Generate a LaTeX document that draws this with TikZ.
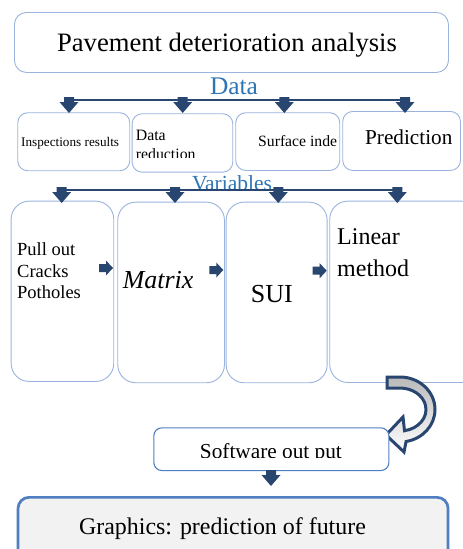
\documentclass[tikz,border=0pt]{standalone}
\usepackage{fontspec}
\setmainfont{Liberation Serif}
\definecolor{edgeblue}{HTML}{9AB4DF}
\definecolor{navy}{HTML}{284670}
\definecolor{headblue}{HTML}{2E75B6}
\definecolor{outblue}{HTML}{4F7FC0}
\definecolor{panelgray}{HTML}{F2F2F2}
\newcommand\setpx[1]{\fontsize{#1}{#1}\selectfont}
\tikzset{
  x=1pt, y=-1pt,
  box/.style={draw=edgeblue, line width=0.9pt, rounded corners=10pt,
    anchor=north west, inner sep=0pt, fill=white},
  tallbox/.style={box, rounded corners=18pt},
  txt/.style={inner sep=0pt, anchor=base west},
  ctxt/.style={inner sep=0pt, anchor=base},
  busline/.style={draw=navy, line width=1.8pt},
  dnarrow/.pic={\fill[navy] (-5,-3) -- (5,-3) -- (5,2) -- (9.5,2) -- (0,13)
    -- (-9.5,2) -- (-5,2) -- cycle;},
  rtarrow/.pic={\fill[navy] (0,-4) -- (7,-4) -- (7,-7.5) -- (14,0) -- (7,7.5)
    -- (7,4) -- (0,4) -- cycle;},
}
\begin{document}
\begin{tikzpicture}
\clip (0,0) rectangle (463,549);
\fill[white] (0,0) rectangle (463,549);

% title
\node[box, rounded corners=12pt, minimum width=434pt, minimum height=60pt] (title) at (14,12) {};
\node[ctxt, font=\setpx{26.6}] (titletxt) at (227,51.7) {Pavement deterioration analysis};

% data bus
\node[ctxt, font=\setpx{25.4}, text=headblue] (datalbl) at (234,94) {Data};
\coordinate (busA) at (68,100);
\coordinate (busB) at (406,100);
\draw[busline] (busA) -- (busB);

% data boxes
\node[box, minimum width=112pt, minimum height=58pt] (ins) at (17.3,112.3) {};
\node[box, minimum width=100.6pt, minimum height=58.4pt] (red) at (131.7,113.3) {};
\node[box, minimum width=104pt, minimum height=57.7pt] (surf) at (235.3,112.3) {};
\node[box, minimum width=117.7pt, minimum height=59pt] (pred) at (342.3,111) {};

\foreach \px in {69,182.7,284.3,405} \pic at (\px,100) {dnarrow};

\node[txt, font=\setpx{13.2}] (instxt) at (21,146) {Inspections results};
\begin{scope}
  \clip (132,113) rectangle (232,157);
  \node[txt, font=\setpx{15.8}] (redtxtA) at (135.7,140.7) {Data};
  \node[txt, font=\setpx{15.8}] (redtxtB) at (135.7,159.3) {reduction};
\end{scope}
\node[txt, font=\setpx{15.7}] (surftxt) at (258,146.7) {Surface inde};
\node[txt, font=\setpx{21.2}] (predtxt) at (365,144) {Prediction};

% variables bus
\node[ctxt, font=\setpx{21.5}, text=headblue] (varlbl) at (232,190) {Variables};
\coordinate (varA) at (61,190);
\coordinate (varB) at (398,190);
\draw[busline] (varA) -- (varB);

% variable boxes
\node[tallbox, minimum width=102.6pt, minimum height=180.3pt] (pull) at (10.7,200.7) {};
\node[tallbox, minimum width=106.7pt, minimum height=180.6pt] (mat) at (117.3,201.7) {};
\node[tallbox, minimum width=101pt, minimum height=180.6pt] (sui) at (225.7,201.7) {};
\node[tallbox, minimum width=150pt, minimum height=181.3pt] (lin) at (329.3,200.7) {};

\foreach \px in {61.7,175,278.3,397.3} \pic at (\px,190) {dnarrow};

\node[txt, font=\setpx{18.5}] (pulltxtA) at (17,255) {Pull out};
\node[txt, font=\setpx{18.5}] (pulltxtB) at (17,277) {Cracks};
\node[txt, font=\setpx{18.5}] (pulltxtC) at (17,298) {Potholes};
\node[txt, font=\setpx{25.9}\itshape] (mattxt) at (122.7,288) {Matrix};
\node[txt, font=\setpx{26}] (suitxt) at (250.7,302.7) {SUI};
\node[txt, font=\setpx{24}] (lintxtA) at (337,244) {Linear};
\node[txt, font=\setpx{24}] (lintxtB) at (337,276) {method};

\pic at (99,268) {rtarrow};
\pic at (209.3,270) {rtarrow};
\pic at (312.7,270.7) {rtarrow};

% curved block arrow into the output box
\filldraw[draw=navy, line width=3pt, line join=miter, top color=gray!55, bottom color=white]
  (387,377) -- (400,377)
  arc[start angle=-90, end angle=80, x radius=35, y radius=32.5]
  -- (404,452) -- (386,435) -- (403,417) -- (404.5,430.7)
  arc[start angle=80, end angle=-90, x radius=26, y radius=21.5]
  -- (387,388) -- cycle;

% software output
\node[box, draw=outblue, line width=1.1pt, rounded corners=8pt,
      minimum width=235pt, minimum height=42.7pt] (soft) at (153.3,427.3) {};
\begin{scope}
  \clip (154,428) rectangle (388,457.5);
  \node[ctxt, font=\setpx{21.3}] (softtxt) at (270.9,458) {Software out put};
\end{scope}

\pic at (271,473) {dnarrow};

% final graphics panel
\node[box, draw=outblue, fill=panelgray, line width=2.7pt, rounded corners=11pt,
      minimum width=430pt, minimum height=70pt] (graph) at (16.7,496) {};
\node[ctxt, font=\setpx{23.9}] (graphtxt) at (222.5,534) {Graphics: prediction of future};
\end{tikzpicture}
\end{document}
